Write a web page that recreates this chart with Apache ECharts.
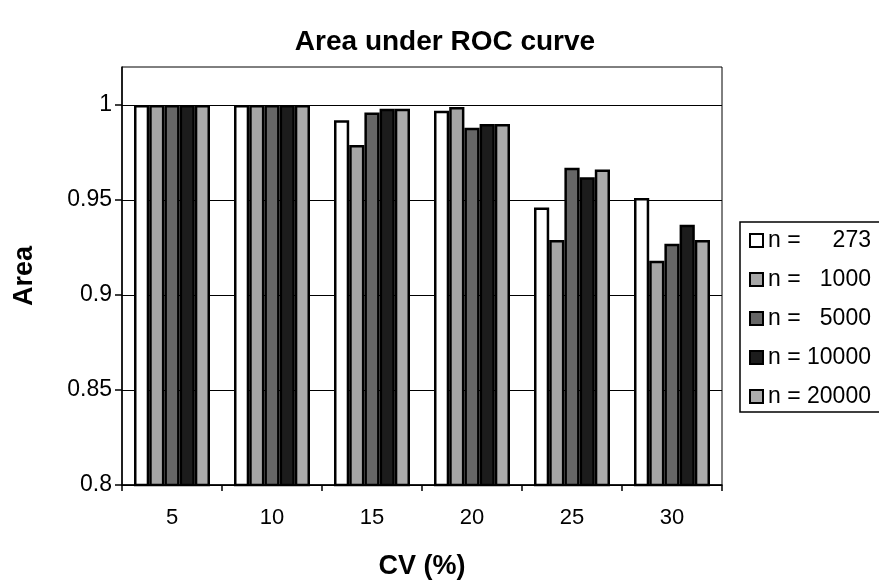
<!DOCTYPE html>
<html>
<head>
<meta charset="utf-8">
<script src="https://cdn.jsdelivr.net/npm/echarts@6/dist/echarts.min.js"></script>
<style>
    html, body { margin: 0; padding: 0; background: #fff; }
    #chart { width: 879px; height: 585px; }
</style>
</head>
<body>
<div id="chart"></div>
<script>
// CV categories
const categories = ['5', '10', '15', '20', '25', '30']
const seriesNames = ['273', '1000', '5000', '10000', '20000']
// area under ROC per sample size
const n273 = [1, 1, 0.992, 0.997, 0.946, 0.951]
const n1000 = [1, 1, 0.979, 0.999, 0.929, 0.918]
const n5000 = [1, 1, 0.996, 0.988, 0.967, 0.927]
const n10000 = [1, 1, 0.998, 0.990, 0.962, 0.937]
const n20000 = [1, 1, 0.998, 0.990, 0.966, 0.929]
const yTicks = [0.8, 0.85, 0.9, 0.95, 1]

const values = [n273, n1000, n5000, n10000, n20000]
const colors = ['#ffffff', '#a6a6a6', '#666666', '#1c1c1c', '#ababab']
const font = 'Liberation Sans, Arial, sans-serif'

const chart = echarts.init(document.getElementById('chart'))

const option = {
    backgroundColor: '#fff',
    animation: false,
    title: {
        text: 'Area under ROC curve',
        left: 440,
        top: 23,
        textAlign: 'center',
        textStyle: { fontFamily: font, fontWeight: 'bold', fontSize: 28, color: '#000' }
    },
    legend: {
        orient: 'vertical',
        left: 740,
        top: 222,
        padding: [7, 20, 4, 9],
        itemGap: 16,
        itemWidth: 13,
        itemHeight: 13,
        borderColor: '#000',
        borderWidth: 1.5,
        icon: 'rect',
        data: seriesNames.map(s => 'n = ' + s),
        // right-align the numbers with figure spaces, like the original
        formatter: name => 'n = ' + name.replace('n = ', '').padStart(5, '\u2007'),
        textStyle: { fontFamily: font, fontSize: 23, color: '#000' }
    },
    grid: {
        left: 122,
        top: 67,
        right: 157,
        bottom: 100,
        show: true,
        borderColor: '#000',
        borderWidth: 1,
        backgroundColor: '#fff'
    },
    xAxis: {
        type: 'category',
        data: categories,
        name: 'CV (%)',
        nameLocation: 'middle',
        nameGap: 68,
        nameTextStyle: { fontFamily: font, fontWeight: 'bold', fontSize: 27, color: '#000' },
        axisLine: { lineStyle: { color: '#000', width: 1.5 } },
        axisTick: { show: true, length: 6, inside: false, lineStyle: { color: '#000', width: 1.5 } },
        axisLabel: { fontFamily: font, fontSize: 22, color: '#000', margin: 22 }
    },
    yAxis: {
        type: 'value',
        min: 0.8,
        max: 1.02,
        interval: 0.05,
        name: 'Area',
        nameLocation: 'middle',
        nameGap: 84,
        nameTextStyle: { fontFamily: font, fontWeight: 'bold', fontSize: 27, color: '#000' },
        axisLine: { show: true, lineStyle: { color: '#000', width: 1.5 } },
        axisTick: {
            show: true, length: 7, lineStyle: { color: '#000', width: 1.5 },
            customValues: yTicks
        },
        axisLabel: {
            fontFamily: font, fontSize: 23, color: '#000', margin: 10,
            customValues: yTicks
        },
        splitLine: { show: true, lineStyle: { color: '#000', width: 1 } }
    },
    series: values.map((v, i) => ({
        name: 'n = ' + seriesNames[i],
        type: 'bar',
        data: v,
        barGap: '0%',
        barCategoryGap: '24%',
        itemStyle: { color: colors[i], borderColor: '#000', borderWidth: 2.5 }
    }))
}

chart.setOption(option)
</script>
</body>
</html>
